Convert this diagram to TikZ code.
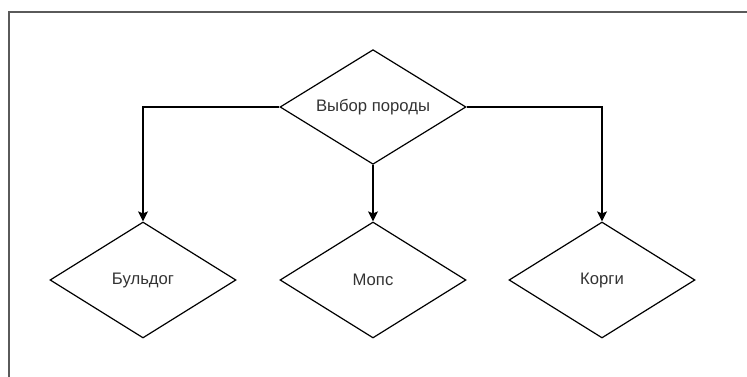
\documentclass[tikz,border=0pt]{standalone}
\usepackage{fontspec}
\setmainfont{Liberation Sans}
\usetikzlibrary{shapes.geometric,arrows.meta}
\definecolor{framegray}{HTML}{5A5A5A}
\definecolor{txtgray}{HTML}{333333}
\begin{document}
\begin{tikzpicture}[x=0.75pt,y=-0.75pt,
  choice/.style={diamond,shape aspect=1.62,draw=black,line width=0.9pt,inner sep=0pt,
    minimum width=139.5pt,minimum height=86pt,font=\fontsize{12.5}{15}\selectfont,text=txtgray},
  link/.style={draw=black,line width=0.9pt,-{Stealth[length=7.5pt,width=7.5pt,inset=1.5pt]}}]
\useasboundingbox (0,0) rectangle (747,377);
\draw[framegray,line width=1.3pt] (9,377) -- (9,12) -- (747,12);
\node[choice] (root) at (373,107) {Выбор породы};
\node[choice,minimum height=87pt] (b1) at (143,280) {Бульдог};
\node[choice,minimum height=87pt] (b2) at (373,280) {Мопс};
\node[choice,minimum height=87pt] (b3) at (602,280) {Корги};
\draw[link] (root.west) -| (b1.north);
\draw[link] (root.south) -- (b2.north);
\draw[link] (root.east) -| (b3.north);
\end{tikzpicture}
\end{document}
